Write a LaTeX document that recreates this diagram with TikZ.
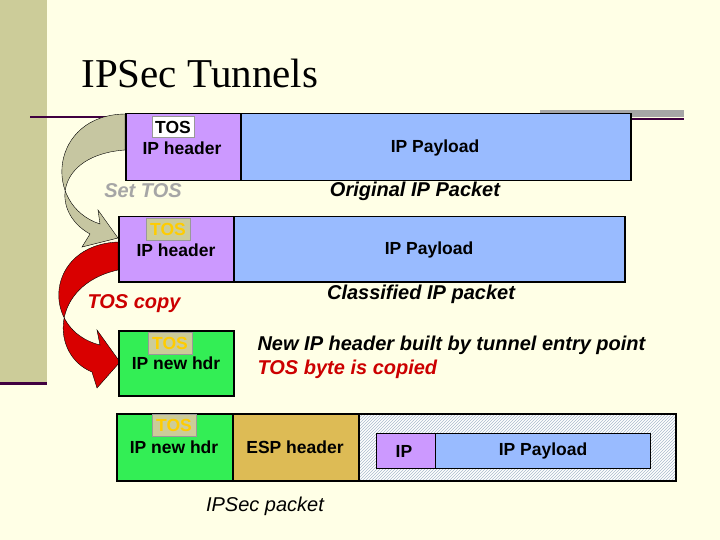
\documentclass[tikz,border=0pt]{standalone}
\usepackage{fontspec}
\setmainfont{Liberation Sans}
\newfontfamily\seriff{Liberation Serif}
\usetikzlibrary{patterns}
\definecolor{bg}{RGB}{255,255,230}
\definecolor{tan}{RGB}{204,204,153}
\definecolor{dpurp}{RGB}{64,0,64}
\definecolor{hdr}{RGB}{204,153,255}
\definecolor{pay}{RGB}{153,187,255}
\definecolor{grn}{RGB}{51,238,85}
\definecolor{esp}{RGB}{221,187,85}
\definecolor{tosg}{RGB}{204,204,153}
\definecolor{tosy}{RGB}{255,204,0}
\definecolor{darkred}{RGB}{204,0,0}
\definecolor{hatch}{RGB}{170,187,204}
\begin{document}
\begin{tikzpicture}[x=1pt,y=-1pt,
 box/.style={draw=black,line width=1.5pt},
 lbl/.style={font=\fontsize{17.5}{18}\selectfont\bfseries},
 tos/.style={fill=tosg,draw=black!40,minimum width=44pt,minimum height=22pt,inner sep=0pt,font=\fontsize{17.5}{18}\selectfont\bfseries,text=tosy},
 capt/.style={font=\fontsize{20}{21}\selectfont\bfseries\itshape}]
\fill[bg] (0,0) rectangle (720,540);
\useasboundingbox (0,0) rectangle (720,540);
\fill[tan] (0,0) rectangle (47,384);
\draw[dpurp,line width=3pt] (0,383) -- (47,383);
\draw[dpurp,line width=2.5pt] (30,117) -- (125,117);
\fill[black!35] (540,110) rectangle (684,117);
\draw[dpurp,line width=2.5pt] (540,119) -- (684,119);
\node[anchor=west,font=\seriff\fontsize{41}{42}\selectfont] (title) at (78,73) {IPSec Tunnels};
% arrows
\fill[tan!90!black!80,draw=black,line width=0.4pt] (125,114) .. controls (50,115) and (42,205) .. (100,224) -- (98,210) -- (118,238) -- (82,247) -- (90,234) .. controls (50,212) and (55,155) .. (125,150) -- cycle;
\fill[red!85!black,draw=black,line width=0.4pt] (118,242) .. controls (45,245) and (40,330) .. (100,345) -- (97,330) -- (120,362) -- (97,388) -- (92,372) .. controls (50,355) and (50,285) .. (118,270) -- cycle;
% row 1
\node[box,fill=hdr,minimum width=115pt,minimum height=67pt,anchor=north west] (h1) at (125,113) {};
\node[box,fill=pay,minimum width=390pt,minimum height=67pt,anchor=north west] (p1) at (240,113) {};
\node[fill=white,draw=black!40,minimum width=42pt,minimum height=21pt,inner sep=0pt,lbl] (t1) at (173,127) {TOS};
\node[lbl] (h1t) at (182,148) {IP header};
\node[lbl] (p1t) at (435,148) {IP Payload};
\node[capt,text=black!35] (st) at (143,191) {Set TOS};
\node[capt] (c1) at (415,191) {Original IP Packet};
% row 2
\node[box,fill=hdr,minimum width=115pt,minimum height=65pt,anchor=north west] (h2) at (118,216) {};
\node[box,fill=pay,minimum width=391pt,minimum height=65pt,anchor=north west] (p2) at (233,216) {};
\node[tos] (t2) at (168,229) {TOS};
\node[lbl] (h2t) at (176,250) {IP header};
\node[lbl] (p2t) at (429,250) {IP Payload};
\node[capt,text=darkred] (tc) at (134,304) {TOS copy};
\node[capt] (c2) at (421,294) {Classified IP packet};
% row 3
\node[box,fill=grn,minimum width=115pt,minimum height=65pt,anchor=north west] (h3) at (118,330) {};
\node[tos] (t3) at (170,343) {TOS};
\node[lbl] (h3t) at (176,363) {IP new hdr};
\node[capt,anchor=west] (n1) at (254,345) {New IP header built by tunnel entry point};
\node[capt,anchor=west,text=darkred] (n2) at (254,369) {TOS byte is copied};
% row 4
\node[box,fill=grn,minimum width=116pt,minimum height=67pt,anchor=north west] (h4) at (116,413) {};
\node[box,fill=esp,minimum width=126pt,minimum height=67pt,anchor=north west] (e4) at (232,413) {};
\node[box,fill=white,minimum width=317pt,minimum height=67pt,anchor=north west] (x4b) at (358,413) {};
\node[box,pattern=north east lines,pattern color=hatch,minimum width=317pt,minimum height=67pt,anchor=north west] (x4) at (358,413) {};
\node[tos] (t4) at (174,425) {TOS};
\node[lbl] (h4t) at (174,447) {IP new hdr};
\node[lbl] (e4t) at (295,447) {ESP header};
\node[box,line width=1pt,fill=hdr,minimum width=59pt,minimum height=35pt,anchor=north west] (i4) at (376,433) {};
\node[box,line width=1pt,fill=pay,minimum width=215pt,minimum height=35pt,anchor=north west] (q4) at (435,433) {};
\node[lbl] (i4t) at (404,451) {IP};
\node[lbl] (q4t) at (543,451) {IP Payload};
\node[font=\fontsize{20}{21}\selectfont\itshape] (ip) at (265,506) {IPSec packet};
\end{tikzpicture}
\end{document}
